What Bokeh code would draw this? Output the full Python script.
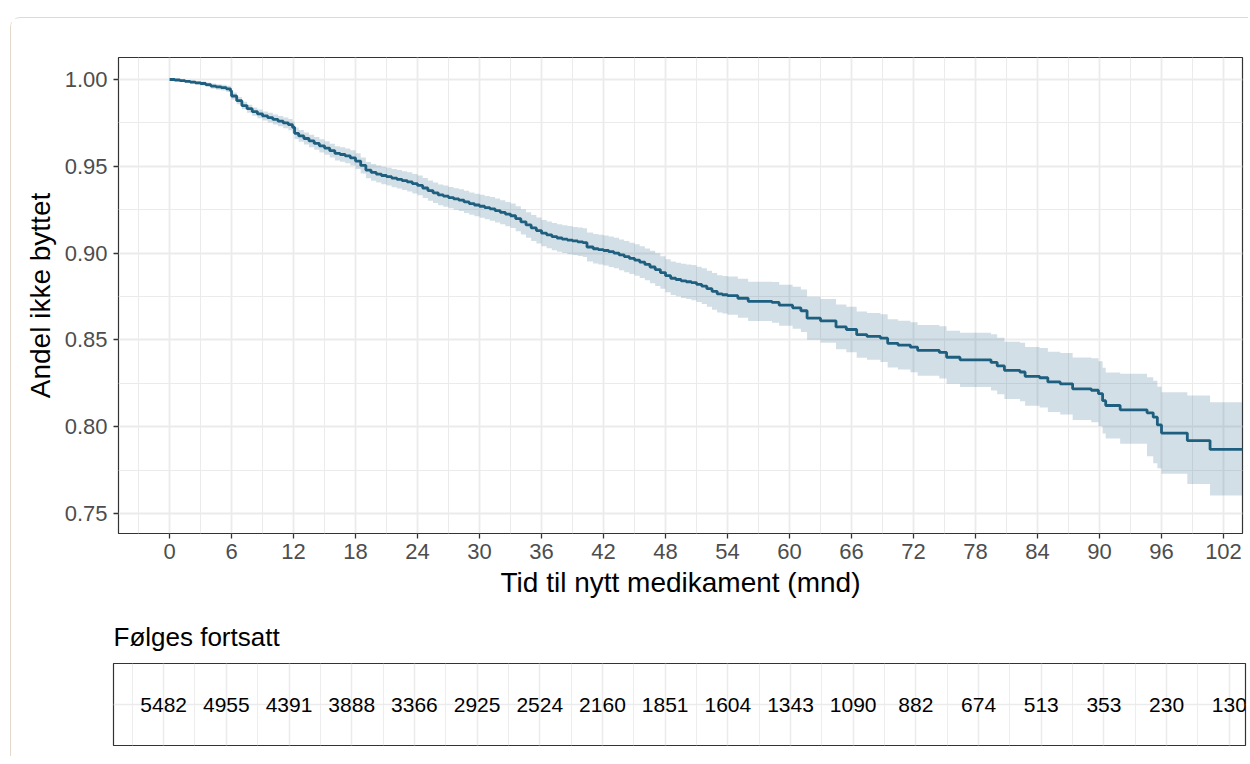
from bokeh.plotting import figure
from bokeh.layouts import column
from bokeh.models import Range1d, FixedTicker, NumeralTickFormatter
from bokeh.core.properties import value
from bokeh.embed import file_html
from bokeh.resources import INLINE

# ---------------- data ----------------
time_months = [0, 0.5, 1, 1.5, 2, 2.5, 3, 3.5, 4, 4.5, 5, 5.5, 5.9,
               6.0, 6.5, 7.0, 7.5, 8.0, 8.5, 9.0, 9.5, 10.0, 10.5, 11.0, 11.5, 11.9,
               12.1, 12.5, 13.0, 13.5, 14.0, 14.5, 15.0, 15.5, 16.0, 16.5, 17.0, 17.5,
               18.0, 18.5, 19.0, 19.5, 20.0, 20.5, 21.0, 21.5, 22.0, 22.5, 23.0, 23.5,
               24.0, 24.5, 25.0, 25.5, 26.0, 26.5, 27.0, 27.5, 28.0, 28.5, 29.0, 29.5,
               30.0, 30.5, 31.0, 31.5, 32.0, 32.5, 33.0, 33.5, 34.0, 34.5, 35.0, 35.5,
               36.0, 36.5, 37.0, 37.5, 38.0, 38.5, 39.0, 39.5, 40.0, 40.4, 41.0, 41.5,
               42.0, 42.5, 43.0, 43.5, 44.0, 44.5, 45.0, 45.5, 46.0, 46.5, 47.0, 47.5,
               48.0, 48.5, 49.0, 49.5, 50.0, 50.5, 51.0, 51.5, 52.0, 52.5, 53.0, 53.5,
               54.0, 55, 56, 58.3, 59, 60.3, 61.1, 61.7, 63, 64.5, 65.5, 66.5, 67.5,
               68.8, 69.5, 70.5, 71.7, 72.4, 74.5, 75.2, 76.5, 79.5, 80.1, 80.8, 82.3,
               82.8, 84.2, 85.0, 86.2, 87.4, 89.2, 89.9, 90.3, 90.6, 92.0, 94.6, 95.2,
               95.6, 96.0, 98.5, 100.7]

survival = [1.0000, 0.9997, 0.9993, 0.9989, 0.9985, 0.9981, 0.9977, 0.9970, 0.9962, 0.9957, 0.9953, 0.9946, 0.9935,
            0.9905, 0.9878, 0.9850, 0.9832, 0.9815, 0.9802, 0.9790, 0.9780, 0.9770, 0.9760, 0.9750, 0.9740, 0.9725,
            0.9690, 0.9675, 0.9660, 0.9646, 0.9632, 0.9618, 0.9605, 0.9590, 0.9575, 0.9568, 0.9560, 0.9548,
            0.9530, 0.9505, 0.9478, 0.9465, 0.9455, 0.9447, 0.9440, 0.9432, 0.9425, 0.9418, 0.9410, 0.9400,
            0.9390, 0.9375, 0.9360, 0.9347, 0.9335, 0.9328, 0.9320, 0.9312, 0.9305, 0.9295, 0.9285, 0.9277,
            0.9270, 0.9262, 0.9255, 0.9245, 0.9235, 0.9225, 0.9215, 0.9198, 0.9180, 0.9162, 0.9145, 0.9130,
            0.9115, 0.9105, 0.9095, 0.9087, 0.9080, 0.9075, 0.9070, 0.9065, 0.9060, 0.9035, 0.9025, 0.9020,
            0.9015, 0.9008, 0.9000, 0.8990, 0.8980, 0.8970, 0.8960, 0.8948, 0.8935, 0.8920, 0.8905, 0.8888,
            0.8870, 0.8855, 0.8848, 0.8840, 0.8835, 0.8830, 0.8820, 0.8810, 0.8795, 0.8780, 0.8765, 0.8760,
            0.8755, 0.8740, 0.8722, 0.8716, 0.8700, 0.8685, 0.8668, 0.8625, 0.8610, 0.8575, 0.8560, 0.8530, 0.8520,
            0.8510, 0.8480, 0.8470, 0.8458, 0.8440, 0.8428, 0.8400, 0.8385, 0.8370, 0.8350, 0.8325, 0.8315,
            0.8290, 0.8282, 0.8258, 0.8247, 0.8218, 0.8210, 0.8190, 0.8150, 0.8122, 0.8097, 0.8080, 0.8055,
            0.8010, 0.7963, 0.7920, 0.7869]

ci_lower = [1.0000, 0.9994, 0.9988, 0.9982, 0.9976, 0.9971, 0.9965, 0.9957, 0.9947, 0.9941, 0.9936, 0.9928, 0.9916,
            0.9885, 0.9857, 0.9828, 0.9809, 0.9791, 0.9777, 0.9764, 0.9752, 0.9741, 0.9730, 0.9719, 0.9708, 0.9692,
            0.9657, 0.9641, 0.9625, 0.9610, 0.9595, 0.9580, 0.9566, 0.9550, 0.9534, 0.9526, 0.9517, 0.9504,
            0.9485, 0.9459, 0.9431, 0.9417, 0.9406, 0.9397, 0.9389, 0.9380, 0.9372, 0.9364, 0.9355, 0.9344,
            0.9333, 0.9317, 0.9302, 0.9288, 0.9275, 0.9267, 0.9259, 0.9250, 0.9242, 0.9231, 0.9221, 0.9212,
            0.9204, 0.9195, 0.9187, 0.9176, 0.9166, 0.9155, 0.9144, 0.9126, 0.9107, 0.9088, 0.9070, 0.9055,
            0.9039, 0.9028, 0.9017, 0.9008, 0.9000, 0.8994, 0.8989, 0.8983, 0.8977, 0.8951, 0.8940, 0.8934,
            0.8928, 0.8920, 0.8912, 0.8901, 0.8890, 0.8880, 0.8869, 0.8856, 0.8843, 0.8827, 0.8811, 0.8794,
            0.8775, 0.8759, 0.8751, 0.8742, 0.8736, 0.8729, 0.8718, 0.8707, 0.8691, 0.8674, 0.8658, 0.8652,
            0.8645, 0.8628, 0.8609, 0.8599, 0.8582, 0.8564, 0.8546, 0.8501, 0.8484, 0.8446, 0.8429, 0.8397, 0.8385,
            0.8372, 0.8341, 0.8329, 0.8314, 0.8294, 0.8277, 0.8247, 0.8229, 0.8208, 0.8187, 0.8160, 0.8147,
            0.8121, 0.8110, 0.8084, 0.8070, 0.8038, 0.8025, 0.8003, 0.7961, 0.7932, 0.7902, 0.7830, 0.7790,
            0.7760, 0.7729, 0.7670, 0.7604]

ci_upper = [1.0000, 1.0000, 0.9998, 0.9996, 0.9994, 0.9991, 0.9989, 0.9983, 0.9977, 0.9973, 0.9970, 0.9964, 0.9954,
            0.9925, 0.9899, 0.9872, 0.9855, 0.9839, 0.9827, 0.9816, 0.9808, 0.9799, 0.9790, 0.9781, 0.9772, 0.9758,
            0.9723, 0.9709, 0.9695, 0.9682, 0.9669, 0.9656, 0.9644, 0.9630, 0.9616, 0.9610, 0.9603, 0.9592,
            0.9575, 0.9551, 0.9525, 0.9513, 0.9504, 0.9497, 0.9491, 0.9484, 0.9478, 0.9472, 0.9465, 0.9456,
            0.9447, 0.9433, 0.9418, 0.9406, 0.9395, 0.9389, 0.9381, 0.9374, 0.9368, 0.9359, 0.9349, 0.9342,
            0.9336, 0.9329, 0.9323, 0.9314, 0.9304, 0.9295, 0.9286, 0.9270, 0.9253, 0.9236, 0.9220, 0.9205,
            0.9191, 0.9182, 0.9173, 0.9166, 0.9160, 0.9156, 0.9151, 0.9147, 0.9143, 0.9119, 0.9110, 0.9106,
            0.9102, 0.9096, 0.9088, 0.9079, 0.9070, 0.9060, 0.9051, 0.9040, 0.9027, 0.9013, 0.8999, 0.8982,
            0.8965, 0.8951, 0.8945, 0.8938, 0.8934, 0.8931, 0.8922, 0.8913, 0.8899, 0.8886, 0.8872, 0.8868,
            0.8865, 0.8852, 0.8835, 0.8833, 0.8818, 0.8806, 0.8790, 0.8749, 0.8736, 0.8704, 0.8691, 0.8663, 0.8655,
            0.8648, 0.8619, 0.8611, 0.8602, 0.8586, 0.8579, 0.8553, 0.8541, 0.8532, 0.8513, 0.8490, 0.8483,
            0.8459, 0.8454, 0.8432, 0.8424, 0.8398, 0.8395, 0.8377, 0.8339, 0.8312, 0.8305, 0.8285, 0.8265,
            0.8230, 0.8199, 0.8180, 0.8141]

follow_end = 103.84          # last follow-up time shown (right edge of panel)

tick_months = [0, 6, 12, 18, 24, 30, 36, 42, 48, 54, 60, 66, 72, 78, 84, 90, 96, 102]
minor_months = [-3, 3, 9, 15, 21, 27, 33, 39, 45, 51, 57, 63, 69, 75, 81, 87, 93, 99]
at_risk = [5482, 4955, 4391, 3888, 3366, 2925, 2524, 2160, 1851, 1604, 1343, 1090, 882, 674, 513, 353, 230, 130]
y_ticks = [0.75, 0.80, 0.85, 0.90, 0.95, 1.00]
y_minor = [0.775, 0.825, 0.875, 0.925, 0.975]

x_title = "Tid til nytt medikament (mnd)"
y_title = "Andel ikke byttet"
table_title = "Følges fortsatt"

# ---------------- style ----------------
FONT = "Liberation Sans"
CURVE = "#1e5f80"
GRID = "#ebebeb"
DARK = "#333333"

xs = time_months + [follow_end]
ys = survival + [survival[-1]]
lo = ci_lower + [ci_lower[-1]]
hi = ci_upper + [ci_upper[-1]]

p = figure(width=1237, height=590, output_backend="svg", toolbar_location=None,
           x_range=Range1d(-4.94, 103.84), y_range=Range1d(0.73848, 1.01267),
           min_border_left=107, min_border_right=6, min_border_top=39, min_border_bottom=75)
p.frame_align = False
p.background_fill_color = "white"
p.border_fill_color = "white"
p.outline_line_color = DARK
p.outline_line_width = 1.2

p.varea_step(x=xs, y1=lo, y2=hi, step_mode="after", fill_color=CURVE, fill_alpha=0.2)
p.step(x=xs, y=ys, mode="after", line_color=CURVE, line_width=2.8)

p.xaxis.ticker = FixedTicker(ticks=tick_months, minor_ticks=minor_months)
p.yaxis.ticker = FixedTicker(ticks=y_ticks, minor_ticks=y_minor)
p.yaxis.formatter = NumeralTickFormatter(format="0.00")
for ax in (p.xaxis[0], p.yaxis[0]):
    ax.axis_line_color = None
    ax.major_tick_line_color = DARK
    ax.major_tick_line_width = 1.3
    ax.major_tick_out = 5
    ax.major_tick_in = 0
    ax.minor_tick_line_color = None
    ax.major_label_text_font = FONT
    ax.major_label_text_font_size = "22px"
    ax.major_label_text_color = "#4d4d4d"
    ax.axis_label_text_font = FONT
    ax.axis_label_text_font_size = "28px"
    ax.axis_label_text_font_style = "normal"
    ax.axis_label_text_color = "black"
p.xaxis.axis_label = x_title
p.yaxis.axis_label = y_title
p.xaxis.major_label_standoff = 5
p.xaxis.axis_label_standoff = 5
p.yaxis.major_label_standoff = 6
p.yaxis.axis_label_standoff = 6

for g in (p.xgrid[0], p.ygrid[0]):
    g.grid_line_color = GRID
    g.grid_line_width = 1.8
    g.minor_grid_line_color = GRID
    g.minor_grid_line_width = 1.0

# ---------------- risk table ----------------
t = figure(width=1237, height=148, output_backend="svg", toolbar_location=None,
           x_range=Range1d(-4.80, 103.55), y_range=Range1d(0, 1),
           min_border_left=102, min_border_right=3, min_border_top=55, min_border_bottom=11)
t.frame_align = False
t.title.text = table_title
t.title.text_font = FONT
t.title.text_font_size = "26px"
t.title.text_font_style = "normal"
t.title.text_color = "black"
t.title.align = "left"
t.title.standoff = 23
t.outline_line_color = DARK
t.outline_line_width = 1.2
t.xaxis.visible = False
t.yaxis.visible = False
t.xgrid.ticker = FixedTicker(ticks=tick_months, minor_ticks=minor_months)
t.ygrid.ticker = FixedTicker(ticks=[0.5])
for g in (t.xgrid[0], t.ygrid[0]):
    g.grid_line_color = GRID
    g.grid_line_width = 1.5
    g.minor_grid_line_color = GRID
    g.minor_grid_line_width = 0.9
t.text(x=tick_months, y=[0.5] * len(at_risk), text=[str(n) for n in at_risk],
       text_align="center", text_baseline="middle", text_font=value(FONT),
       text_font_size="21px", text_color="black")

layout = column(p, t, margin=(17, 0, 0, 10),
                styles={"border-top": "1px solid #e4d8cc",
                        "border-left": "1px solid #e4d8cc",
                        "border-top-left-radius": "10px"})

open("out.html", "w").write(file_html(layout, INLINE))
